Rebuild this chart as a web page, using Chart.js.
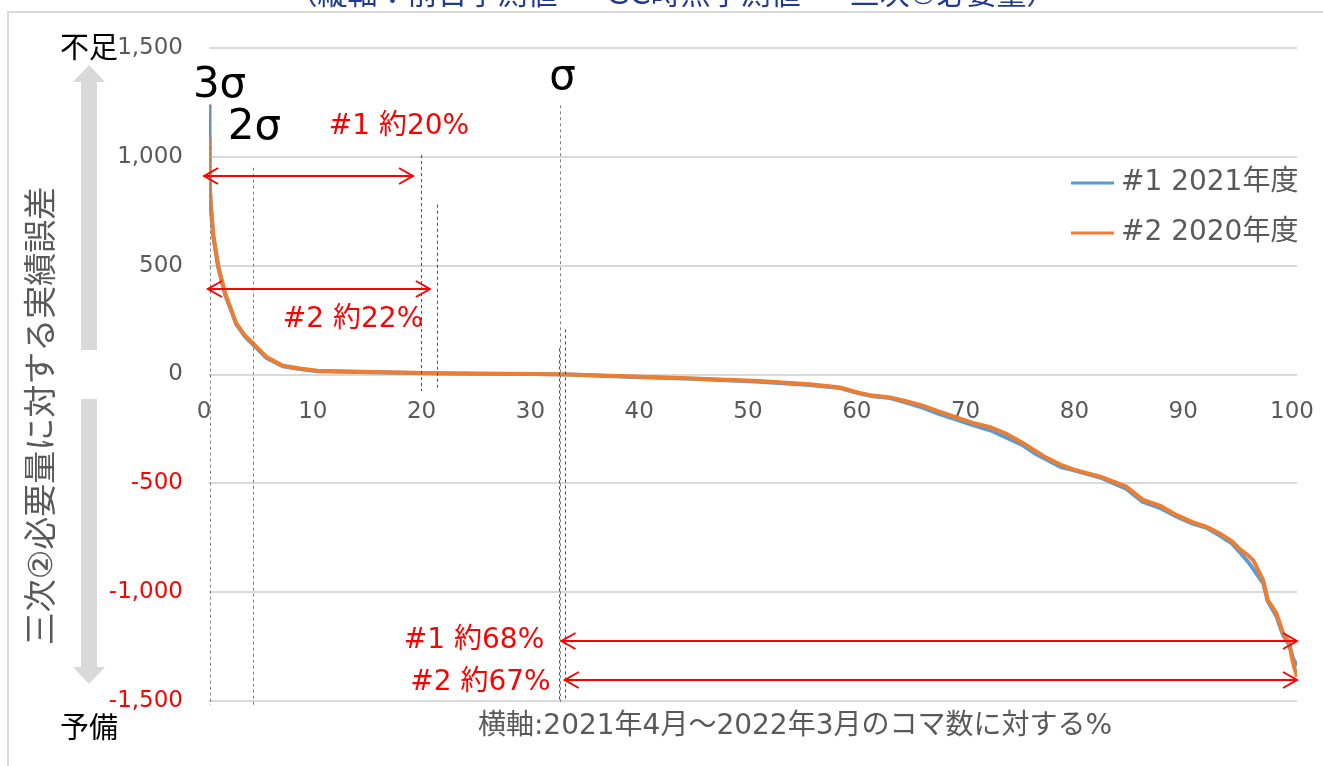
<!DOCTYPE html>
<html>
<head>
<meta charset="utf-8">
<script src="https://cdn.jsdelivr.net/npm/chart.js@4"></script>
<style>
  body { margin: 0; background: #fff; }
  canvas { display: block; }
</style>
</head>
<body>
<canvas id="curve-chart" width="1323" height="766"></canvas>
<script>
// duration curve of the error (x: % of slots, y: MW)
const pct   = [0, 0.05, 0.15, 0.4, 0.86, 1.5, 2.5, 3.3, 4.1, 5.3, 6.8, 8.5, 10, 15, 20, 25, 30, 33, 38.4, 44.5, 50.6, 55.2, 58, 59.8, 61, 62.6, 64, 65.6, 67, 68.7, 70.2, 71.8, 73.3, 74.8, 76, 77, 78.3, 79.5, 82, 84.3, 85.8, 87.5, 88.9, 90.4, 91.7, 92.9, 94, 94.8, 95.5, 96, 96.9, 97.3, 98.1, 98.7, 99.3, 99.6, 100];
const y2021 = [1240, 900, 780, 630, 490, 365, 232, 175, 135, 75, 38, 24, 15, 10, 6, 4, 2, 0, -10, -20, -33, -48, -62, -88, -100, -108, -128, -152, -180, -207, -232, -256, -290, -325, -365, -392, -425, -440, -475, -525, -585, -615, -652, -685, -705, -740, -775, -820, -860, -895, -960, -1040, -1110, -1195, -1245, -1300, -1340];
const y2020 = [1090, 900, 790, 640, 495, 370, 236, 180, 140, 80, 40, 26, 17, 11, 7, 4, 2, 0, -8, -18, -30, -45, -60, -85, -97, -105, -122, -143, -168, -197, -222, -242, -272, -315, -352, -383, -415, -437, -470, -515, -575, -605, -645, -678, -700, -730, -765, -805, -830, -855, -945, -1035, -1095, -1185, -1235, -1320, -1390];
const seriesNames = ['#1 2021年度', '#2 2020年度'];
const xTicks = [0, 10, 20, 30, 40, 50, 60, 70, 80, 90, 100];
const yTicks = [1500, 1000, 500, 0, -500, -1000, -1500];

// sigma markers
const sigmaNames = ['3σ', '2σ', 'σ'];
const sigmaPct   = [0.05, 4.05, 32.3];
const sigmaTop   = [1240, 950, 1237];
const sigmaTextX = [0.97, 4.18, 32.5];
const sigmaTextY = [1274, 1082, 1311];

// red share markers
const shareX      = [19.5, 20.95, 32.2, 32.7];
const shareTop    = [1008, 780, 120, 207];
const shareBottom = [-76, -76, -1500, -1500];
const arrowFrom   = [-0.45, -0.1, 32.4, 32.7];
const arrowTo     = [18.75, 20.3, 100, 100];
const arrowY      = [912, 391, -1226, -1404];
const shareLabels = ['#1 約20%', '#2 約22%', '#1 約68%', '#2 約67%'];
const shareLabelX = [17.46, 13.24, 24.36, 24.95];
const shareLabelY = [1137, 253, -1222, -1414];

const FONT = "'DejaVu Sans', 'Noto Sans CJK JP', sans-serif";
const GRAY = '#595959';
const RED = '#ff0000';
const BLUE = '#5b9bd5';
const ORANGE = '#ed7d31';

function arrowHead(ctx, x, y, dir) {
  ctx.beginPath();
  ctx.moveTo(x - dir * 14, y - 8);
  ctx.lineTo(x, y);
  ctx.lineTo(x - dir * 14, y + 8);
  ctx.stroke();
}

const decorations = {
  id: 'decorations',
  beforeDraw(chart) {
    const ctx = chart.ctx;
    ctx.save();
    ctx.fillStyle = '#fff';
    ctx.fillRect(0, 0, chart.width, chart.height);
    // title (clipped at the top)
    ctx.fillStyle = '#1f3a93';
    ctx.font = '30px ' + FONT;
    ctx.textAlign = 'center';
    ctx.textBaseline = 'alphabetic';
    ctx.fillText('（縦軸：前日予測値 － GC時点予測値 － 三次②必要量）', 672, 4);
    // frame
    ctx.strokeStyle = '#d9d9d9';
    ctx.lineWidth = 2;
    ctx.strokeRect(8, 12, 1340, 800);
    // gray arrows
    ctx.fillStyle = '#d9d9d9';
    ctx.beginPath();
    ctx.moveTo(89, 65); ctx.lineTo(105, 82); ctx.lineTo(97, 82); ctx.lineTo(97, 350);
    ctx.lineTo(81, 350); ctx.lineTo(81, 82); ctx.lineTo(73, 82); ctx.closePath();
    ctx.fill();
    ctx.beginPath();
    ctx.moveTo(81, 399); ctx.lineTo(97, 399); ctx.lineTo(97, 667); ctx.lineTo(105, 667);
    ctx.lineTo(89, 684); ctx.lineTo(73, 667); ctx.lineTo(81, 667); ctx.closePath();
    ctx.fill();
    // axis titles
    ctx.fillStyle = GRAY;
    ctx.font = '33px ' + FONT;
    ctx.textBaseline = 'middle';
    ctx.save();
    ctx.translate(43, 416);
    ctx.rotate(-Math.PI / 2);
    ctx.fillText('三次②必要量に対する実績誤差', 0, 0);
    ctx.restore();
    ctx.font = '28px ' + FONT;
    ctx.fillText('横軸:2021年4月～2022年3月のコマ数に対する%', 795, 727);
    ctx.fillStyle = '#000';
    ctx.font = '29px ' + FONT;
    ctx.fillText('不足', 89, 50);
    ctx.fillText('予備', 89, 730);
    ctx.restore();
  },
  afterDatasetsDraw(chart) {
    const ctx = chart.ctx;
    const xs = chart.scales.x, ys = chart.scales.y;
    const bottom = ys.getPixelForValue(-1500) + 4;
    ctx.save();
    ctx.lineWidth = 1;
    ctx.setLineDash([3, 3]);
    // sigma lines
    ctx.strokeStyle = '#808080';
    sigmaPct.forEach((p, i) => {
      const x = Math.round(xs.getPixelForValue(p)) + 0.5;
      ctx.beginPath();
      ctx.moveTo(x, ys.getPixelForValue(sigmaTop[i]));
      ctx.lineTo(x, bottom);
      ctx.stroke();
    });
    // share lines
    ctx.strokeStyle = RED;
    shareX.forEach((p, i) => {
      const x = Math.round(xs.getPixelForValue(p)) + 0.5;
      ctx.beginPath();
      ctx.moveTo(x, ys.getPixelForValue(shareTop[i]));
      ctx.lineTo(x, ys.getPixelForValue(shareBottom[i]));
      ctx.stroke();
    });
    ctx.setLineDash([]);
    // arrows
    ctx.lineWidth = 2;
    arrowFrom.forEach((p, i) => {
      const x1 = xs.getPixelForValue(p), x2 = xs.getPixelForValue(arrowTo[i]);
      const y = Math.round(ys.getPixelForValue(arrowY[i]));
      ctx.beginPath();
      ctx.moveTo(x1, y); ctx.lineTo(x2, y);
      ctx.stroke();
      arrowHead(ctx, x1, y, -1);
      arrowHead(ctx, x2, y, 1);
    });
    // labels
    ctx.textAlign = 'center';
    ctx.textBaseline = 'middle';
    ctx.fillStyle = RED;
    ctx.font = '28px ' + FONT;
    shareLabels.forEach((t, i) => {
      ctx.fillText(t, xs.getPixelForValue(shareLabelX[i]), ys.getPixelForValue(shareLabelY[i]));
    });
    ctx.fillStyle = '#000';
    ctx.font = '42px ' + FONT;
    ctx.textBaseline = 'alphabetic';
    sigmaNames.forEach((t, i) => {
      ctx.fillText(t, xs.getPixelForValue(sigmaTextX[i]), ys.getPixelForValue(sigmaTextY[i]));
    });
    // legend
    ctx.textAlign = 'left';
    ctx.textBaseline = 'middle';
    ctx.font = '28px ' + FONT;
    chart.data.datasets.forEach((ds, i) => {
      const y = 183 + i * 50;
      ctx.strokeStyle = ds.borderColor;
      ctx.lineWidth = 3;
      ctx.beginPath();
      ctx.moveTo(1071, y); ctx.lineTo(1114, y);
      ctx.stroke();
      ctx.fillStyle = GRAY;
      ctx.fillText(ds.label, 1121, y);
    });
    ctx.restore();
  }
};

new Chart(document.getElementById('curve-chart'), {
  type: 'line',
  data: {
    datasets: [
      { label: seriesNames[0], data: pct.map((p, i) => ({ x: p, y: y2021[i] })), borderColor: BLUE, borderWidth: 4, pointRadius: 0, tension: 0, order: 1 },
      { label: seriesNames[1], data: pct.map((p, i) => ({ x: p, y: y2020[i] })), borderColor: ORANGE, borderWidth: 4, pointRadius: 0, tension: 0, order: 0 }
    ]
  },
  options: {
    responsive: false,
    animation: false,
    layout: { padding: { left: 0, top: 48, right: 26, bottom: 65 } },
    scales: {
      x: {
        type: 'linear', min: 0, max: 100,
        position: { y: 0 },
        afterFit: s => { s.height = 0; s.paddingLeft = 0; s.paddingRight = 0; },
        afterBuildTicks: s => { s.ticks = xTicks.map(v => ({ value: v })); },
        grid: { display: false, drawTicks: false },
        border: { display: false },
        ticks: { color: GRAY, font: { family: FONT, size: 23 }, padding: 24, labelOffset: -5, maxRotation: 0 }
      },
      y: {
        min: -1500, max: 1500,
        afterFit: s => { s.width = 209; s.paddingTop = 0; s.paddingBottom = 0; },
        afterBuildTicks: s => { s.ticks = yTicks.map(v => ({ value: v })); },
        grid: { color: '#d9d9d9', lineWidth: 2, drawTicks: false },
        border: { display: false },
        ticks: {
          padding: 26,
          font: { family: FONT, size: 23 },
          color: c => c.tick && c.tick.value < 0 ? RED : GRAY,
          callback: v => v.toLocaleString('en-US')
        }
      }
    },
    plugins: { legend: { display: false }, tooltip: { enabled: false } }
  },
  plugins: [decorations]
});
</script>
</body>
</html>
